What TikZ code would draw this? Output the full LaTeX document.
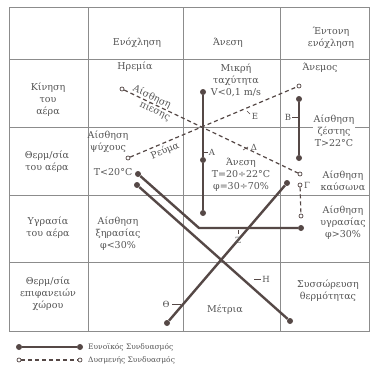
\documentclass[tikz,border=0pt]{standalone}
\usepackage{fontspec}
\setmainfont{DejaVu Serif}
\definecolor{gridc}{HTML}{8C8C8C}
\definecolor{txtc}{HTML}{555555}
\definecolor{linec}{HTML}{554846}
\begin{document}
\begin{tikzpicture}[x=1pt,y=-1pt,
  grid/.style={draw=gridc, line width=0.8pt},
  txt/.style={text=txtc, font=\fontsize{9.5}{12}\selectfont, align=center, inner sep=0.5pt},
  lgtxt/.style={text=txtc, font=\fontsize{7.5}{9}\selectfont, anchor=west, inner sep=0pt},
  sdot/.style={circle, fill=linec, inner sep=0pt, minimum size=6pt},
  odot/.style={circle, draw=linec, fill=white, line width=0.7pt, inner sep=0pt, minimum size=4pt},
  sline/.style={draw=linec, line width=2.4pt},
  dline/.style={draw=linec, line width=1.2pt, dash pattern=on 4pt off 3pt},
  tick/.style={draw=linec, line width=0.6pt},
  lab/.style={text=txtc, font=\fontsize{8.5}{10}\selectfont, inner sep=0pt}
]
\useasboundingbox (0,0) rectangle (372,370);
\fill[white] (0,0) rectangle (372,370);

% table
\draw[grid] (9,7) rectangle (369,331);
\draw[grid] (88,7) -- (88,331);
\draw[grid] (183,7) -- (183,331);
\draw[grid] (280,7) -- (280,331);
\draw[grid] (9,59) -- (369,59);
\draw[grid] (9,127) -- (369,127);
\draw[grid] (9,195) -- (369,195);
\draw[grid] (9,262) -- (369,262);

% headers
\node[txt] (h1) at (137,43) {Ενόχληση};
\node[txt] (h2) at (228,43) {Άνεση};
\node[txt] (h3) at (331,38) {Έντονη\\ενόχληση};

% row labels
\node[txt] (r1) at (48,100) {Κίνηση\\του\\αέρα};
\node[txt] (r2) at (47,162) {Θερμ/σία\\του αέρα};
\node[txt] (r3) at (48,228) {Υγρασία\\του αέρα};
\node[txt] (r4) at (48,294) {Θερμ/σία\\επιφανειών\\χώρου};

% cells
\node[txt] (calm) at (135,67) {Ηρεμία};
\node[txt] (slow) at (236,80) {Μικρή\\ταχύτητα\\V<0,1 m/s};
\node[txt] (wind) at (320,68) {Άνεμος};
\node[txt] (cold) at (108,142) {Αίσθηση\\ψύχους};
\node[txt, anchor=east] (tlow) at (133,172) {T<20°C};
\node[txt, fill=white] (hot) at (334,131) {Αίσθηση\\ζέστης\\T>22°C};
\node[txt] (comfort) at (241,175) {Άνεση\\T=20÷22°C\\φ=30÷70\%};
\node[txt] (heat) at (343,181) {Αίσθηση\\καύσωνα};
\node[txt] (dry) at (118,234) {Αίσθηση\\ξηρασίας\\φ<30\%};
\node[txt] (humid) at (343,223) {Αίσθηση\\υγρασίας\\φ>30\%};
\node[txt] (moderate) at (225,310) {Μέτρια};
\node[txt] (accum) at (328,291) {Συσσώρευση\\θερμότητας};

% solid dots
\node[sdot] (vtop) at (203,92) {};
\node[sdot] (vmid) at (203,160) {};
\node[sdot] (vbot) at (203,213) {};
\node[sdot] (btop) at (299,99) {};
\node[sdot] (bbot) at (299,158) {};
\node[sdot] (coldA) at (138,174) {};
\node[sdot] (coldB) at (137,185) {};
\coordinate (zbend) at (199,228);
\node[sdot] (zend) at (301,228) {};
\node[sdot] (hend) at (290,321) {};
\node[sdot] (thstart) at (167,323) {};
\node[sdot] (thend) at (287,183) {};

% open dots
\node[odot] (pA) at (122,89) {};
\node[odot] (pB) at (300,174) {};
\node[odot] (rA) at (128,158) {};
\node[odot] (rB) at (299,86) {};
\node[odot] (gA) at (300,185) {};
\node[odot] (gB) at (301,216) {};

% dashed lines
\draw[dline] (pA) -- (pB);
\draw[dline] (rA) -- (rB);
\draw[dline] (gA) -- (gB);

% solid lines
\draw[sline] (vtop) -- (vmid) -- (vbot);
\draw[sline] (btop) -- (bbot);
\draw[sline] (coldA) -- (zbend) -- (zend);
\draw[sline] (coldB) -- (hend);
\draw[sline] (thstart) -- (thend);

% texts along dashed lines
\node[txt, rotate=-25.5] (pressA) at (152,97) {Αίσθηση};
\node[txt, rotate=-25.5] (pressB) at (155,111) {πίεσης};
\node[txt, rotate=22.8] (flow) at (165,151) {Ρεύμα};

% line labels
\node[lab] (lA) at (212,152) {Α};
\draw[tick] (203,152) -- (208,152);
\node[lab] (lB) at (288,117) {Β};
\draw[tick] (292,117) -- (299,117);
\node[lab] (lE) at (255,116) {Ε};
\draw[tick] (247,111) -- (250,114);
\node[lab] (lD) at (254,147) {Δ};
\draw[tick] (243,150) -- (248,147);
\node[lab] (lG) at (307,185) {Γ};
\node[lab] (lZ) at (238,240) {Ζ};
\draw[tick] (238,230) -- (238,234);
\node[lab] (lH) at (266,279) {Η};
\draw[tick] (254,279) -- (261,279);
\node[lab] (lT) at (166,304) {Θ};
\draw[tick] (172,304) -- (181,304);

% legend
\node[sdot] (lgsA) at (19,347) {};
\node[sdot] (lgsB) at (80,347) {};
\draw[sline] (lgsA) -- (lgsB);
\node[lgtxt] (lgs) at (88,347) {Ευνοϊκός Συνδυασμός};
\node[odot] (lgdA) at (19,360) {};
\node[odot] (lgdB) at (80,360) {};
\draw[dline] (lgdA) -- (lgdB);
\node[lgtxt] (lgd) at (88,360) {Δυσμενής Συνδυασμός};
\end{tikzpicture}
\end{document}
